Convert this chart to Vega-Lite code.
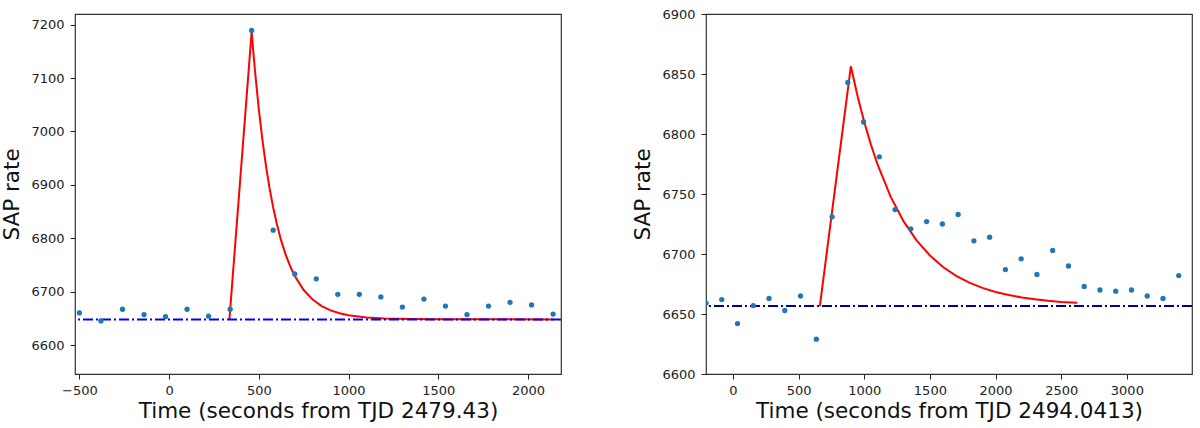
{
  "$schema": "https://vega.github.io/schema/vega-lite/v6.json",
  "padding": {"left": 1, "top": 7, "right": 5, "bottom": 0},
  "spacing": 69,
  "background": "white",
  "config": {
    "view": {"stroke": "#333333", "strokeWidth": 1.2},
    "font": "DejaVu Sans",
    "axis": {
      "grid": false,
      "domain": false,
      "tickSize": 5,
      "tickColor": "#222222",
      "labelFont": "DejaVu Sans",
      "labelFontSize": 13,
      "labelColor": "#222222",
      "titleFont": "DejaVu Sans",
      "titleFontSize": 21.5,
      "titleFontWeight": "normal",
      "titleColor": "#111111",
      "labelPadding": 6
    },
    "axisX": {"titlePadding": 3, "labelPadding": 5},
    "axisY": {"titlePadding": 7}
  },
  "datasets": {
    "left_obs": [
      {"t": -500, "rate": 6660}, {"t": -380, "rate": 6645}, {"t": -260, "rate": 6667},
      {"t": -140, "rate": 6657}, {"t": -20, "rate": 6653}, {"t": 100, "rate": 6667},
      {"t": 220, "rate": 6654}, {"t": 340, "rate": 6667}, {"t": 460, "rate": 7189},
      {"t": 580, "rate": 6815}, {"t": 700, "rate": 6733}, {"t": 820, "rate": 6724},
      {"t": 940, "rate": 6695}, {"t": 1060, "rate": 6695}, {"t": 1180, "rate": 6690},
      {"t": 1300, "rate": 6671}, {"t": 1420, "rate": 6686}, {"t": 1540, "rate": 6673},
      {"t": 1660, "rate": 6657}, {"t": 1780, "rate": 6673}, {"t": 1900, "rate": 6680},
      {"t": 2020, "rate": 6675}, {"t": 2140, "rate": 6658}
    ],
    "left_model": [
      {"t": 336, "rate": 6648}, {"t": 460, "rate": 7187}, {"t": 470, "rate": 7146.2},
      {"t": 480, "rate": 7108.5}, {"t": 500, "rate": 7041.4}, {"t": 520, "rate": 6984.1},
      {"t": 540, "rate": 6935.1}, {"t": 560, "rate": 6893.3}, {"t": 580, "rate": 6857.5},
      {"t": 600, "rate": 6827}, {"t": 625, "rate": 6795}, {"t": 650, "rate": 6768.7},
      {"t": 675, "rate": 6747.2}, {"t": 700, "rate": 6729.4}, {"t": 750, "rate": 6702.9},
      {"t": 800, "rate": 6685.1}, {"t": 850, "rate": 6673}, {"t": 900, "rate": 6664.9},
      {"t": 950, "rate": 6659.4}, {"t": 1000, "rate": 6655.7}, {"t": 1100, "rate": 6651.5},
      {"t": 1200, "rate": 6649.6}, {"t": 1350, "rate": 6648.5}, {"t": 1500, "rate": 6648.1},
      {"t": 2140, "rate": 6648}
    ],
    "left_base": [{"rate": 6648}],
    "right_obs": [
      {"t": -205, "rate": 6659}, {"t": -85, "rate": 6662}, {"t": 35, "rate": 6642},
      {"t": 155, "rate": 6657}, {"t": 275, "rate": 6663}, {"t": 395, "rate": 6653},
      {"t": 515, "rate": 6665}, {"t": 635, "rate": 6629}, {"t": 755, "rate": 6731},
      {"t": 875, "rate": 6843}, {"t": 995, "rate": 6810}, {"t": 1115, "rate": 6781},
      {"t": 1235, "rate": 6737}, {"t": 1355, "rate": 6721}, {"t": 1475, "rate": 6727},
      {"t": 1595, "rate": 6725}, {"t": 1715, "rate": 6733}, {"t": 1835, "rate": 6711},
      {"t": 1955, "rate": 6714}, {"t": 2075, "rate": 6687}, {"t": 2195, "rate": 6696},
      {"t": 2315, "rate": 6683}, {"t": 2435, "rate": 6703}, {"t": 2555, "rate": 6690},
      {"t": 2675, "rate": 6673}, {"t": 2795, "rate": 6670}, {"t": 2915, "rate": 6669},
      {"t": 3035, "rate": 6670}, {"t": 3155, "rate": 6665}, {"t": 3275, "rate": 6663},
      {"t": 3395, "rate": 6682}
    ],
    "right_model": [
      {"t": 662, "rate": 6656.6}, {"t": 898, "rate": 6856.4}, {"t": 950, "rate": 6831.2},
      {"t": 1000, "rate": 6810}, {"t": 1050, "rate": 6791.4}, {"t": 1100, "rate": 6775},
      {"t": 1200, "rate": 6748}, {"t": 1300, "rate": 6727.2}, {"t": 1400, "rate": 6711.1},
      {"t": 1500, "rate": 6698.8}, {"t": 1600, "rate": 6689.2}, {"t": 1700, "rate": 6681.8},
      {"t": 1800, "rate": 6676.1}, {"t": 1900, "rate": 6671.8}, {"t": 2000, "rate": 6668.4},
      {"t": 2100, "rate": 6665.8}, {"t": 2200, "rate": 6663.8}, {"t": 2300, "rate": 6662.2},
      {"t": 2400, "rate": 6661}, {"t": 2500, "rate": 6660.1}, {"t": 2622, "rate": 6659.3}
    ],
    "right_base": [{"rate": 6656.6}]
  },
  "hconcat": [
    {
      "width": 486,
      "height": 360,
      "layer": [
        {
          "data": {"name": "left_model"},
          "mark": {"type": "line", "color": "#ff0000", "strokeWidth": 2, "clip": true},
          "encoding": {
            "x": {
              "field": "t", "type": "quantitative",
              "scale": {"domain": [-524.5, 2184], "nice": false, "zero": false},
              "axis": {"values": [-500, 0, 500, 1000, 1500, 2000], "format": "d", "title": "Time (seconds from TJD 2479.43)"}
            },
            "y": {
              "field": "rate", "type": "quantitative",
              "scale": {"domain": [6545.7, 7219.9], "nice": false, "zero": false},
              "axis": {"values": [6600, 6700, 6800, 6900, 7000, 7100, 7200], "format": "d", "title": "SAP rate"}
            }
          }
        },
        {
          "data": {"name": "left_base"},
          "mark": {"type": "rule", "color": "#0000ff", "strokeWidth": 2, "strokeDash": [10, 3, 2, 3]},
          "encoding": {"y": {"field": "rate", "type": "quantitative"}}
        },
        {
          "data": {"name": "left_obs"},
          "mark": {"type": "circle", "size": 28, "color": "#1f77b4", "opacity": 1, "clip": true},
          "encoding": {
            "x": {"field": "t", "type": "quantitative"},
            "y": {"field": "rate", "type": "quantitative"}
          }
        }
      ]
    },
    {
      "width": 486,
      "height": 360,
      "layer": [
        {
          "data": {"name": "right_model"},
          "mark": {"type": "line", "color": "#ff0000", "strokeWidth": 2, "clip": true},
          "encoding": {
            "x": {
              "field": "t", "type": "quantitative",
              "scale": {"domain": [-205, 3496], "nice": false, "zero": false},
              "axis": {"values": [0, 500, 1000, 1500, 2000, 2500, 3000], "format": "d", "title": "Time (seconds from TJD 2494.0413)"}
            },
            "y": {
              "field": "rate", "type": "quantitative",
              "scale": {"domain": [6600, 6900], "nice": false, "zero": false},
              "axis": {"values": [6600, 6650, 6700, 6750, 6800, 6850, 6900], "format": "d", "title": "SAP rate"}
            }
          }
        },
        {
          "data": {"name": "right_base"},
          "mark": {"type": "rule", "color": "#00008b", "strokeWidth": 2, "strokeDash": [10, 3, 2, 3]},
          "encoding": {"y": {"field": "rate", "type": "quantitative"}}
        },
        {
          "data": {"name": "right_obs"},
          "mark": {"type": "circle", "size": 28, "color": "#1f77b4", "opacity": 1, "clip": true},
          "encoding": {
            "x": {"field": "t", "type": "quantitative"},
            "y": {"field": "rate", "type": "quantitative"}
          }
        }
      ]
    }
  ]
}
